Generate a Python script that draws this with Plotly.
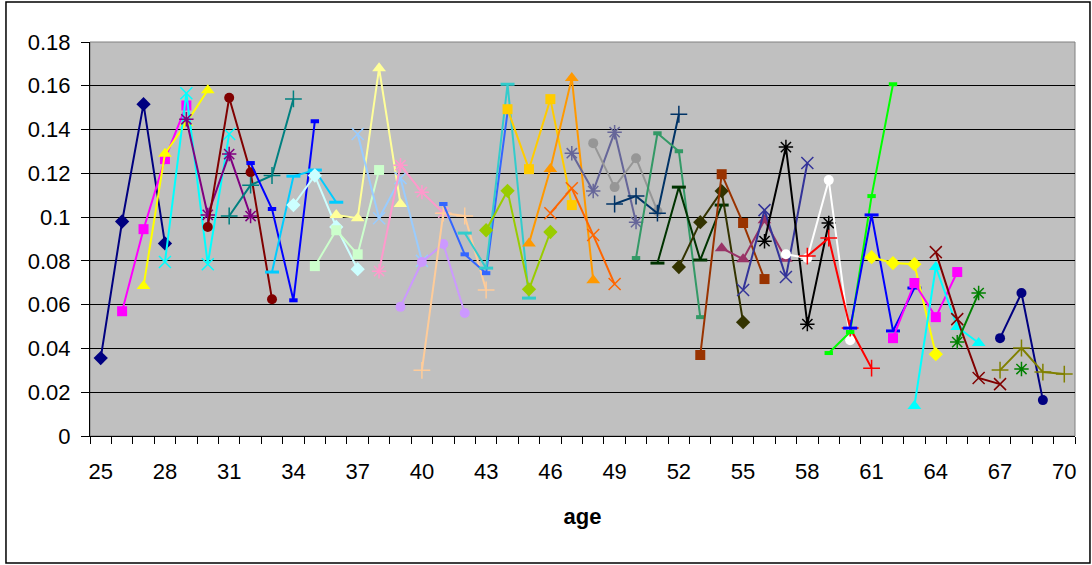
import plotly.graph_objects as go

# Categories (ages) and y tick labels
ages = list(range(25, 71))
x_tick_labels = [str(a) for a in range(25, 71, 3)]
y_tick_values = [0, 0.02, 0.04, 0.06, 0.08, 0.1, 0.12, 0.14, 0.16, 0.18]
y_tick_labels = ["0", "0.02", "0.04", "0.06", "0.08", "0.1", "0.12", "0.14", "0.16", "0.18"]

# Each series covers four consecutive ages starting at its start age
start_ages = [25, 26, 27, 28, 29, 30, 31, 32, 33, 34, 35, 36, 37, 38, 39, 40, 41, 42, 43, 44, 45, 46,
              47, 48, 49, 50, 51, 52, 53, 54, 55, 56, 57, 58, 59, 60, 61, 62, 63, 64, 65, 66, 67]

s01 = [0.0356, 0.098, 0.1516, 0.088]
s02 = [0.057, 0.0945, 0.1265, 0.151]
s03 = [0.0685, 0.129, 0.143, 0.158]
s04 = [0.0795, 0.1566, 0.0785, 0.138]
s05 = [0.1447, 0.101, 0.1288, 0.1005]
s06 = [0.0955, 0.1545, 0.1205, 0.0625]
s07 = [0.1005, 0.1146, 0.119, 0.154]
s08 = [0.1247, 0.1037, 0.062, 0.1438]
s09 = [0.0749, 0.1187, 0.1215, 0.1068]
s10 = [0.1055, 0.119, 0.0955, 0.0762]
s11 = [0.0776, 0.094, 0.083, 0.1215]
s12 = [0.101, 0.0995, 0.168, 0.106]
s13 = [0.138, 0.0995, 0.1178, 0.080]
s14 = [0.0753, 0.1237, 0.1114, 0.102]
s15 = [0.059, 0.0795, 0.0877, 0.0562]
s16 = [0.030, 0.1018, 0.1005, 0.0667]
s17 = [0.106, 0.083, 0.0744, 0.148]
s18 = [0.0927, 0.0767, 0.1607, 0.063]
s19 = [0.094, 0.112, 0.067, 0.0932]
s20 = [0.1493, 0.1219, 0.1539, 0.1055]
s21 = [0.088, 0.122, 0.1635, 0.0712]
s22 = [0.1018, 0.1132, 0.0918, 0.0694]
s23 = [0.1292, 0.1119, 0.1388, 0.0977]
s24 = [0.1338, 0.1137, 0.1269, 0.1027]
s25 = [0.106, 0.1096, 0.1018, 0.147]
s26 = [0.0813, 0.1383, 0.1301, 0.0543]
s27 = [0.079, 0.1137, 0.0804, 0.1055]
s28 = [0.0772, 0.0977, 0.1119, 0.052]
s29 = [0.037, 0.1196, 0.0973, 0.0717]
s30 = [0.0858, 0.0808, 0.0986, 0.081]
s31 = [0.0667, 0.1032, 0.0726, 0.1247]
s32 = [0.089, 0.132, 0.0511, 0.0973]
s33 = [0.083, 0.0813, 0.1169, 0.0438]
s34 = [0.0822, 0.0904, 0.0493, 0.031]
s35 = [0.0379, 0.0475, 0.1096, 0.1607]
s36 = [0.0493, 0.101, 0.048, 0.0676]
s37 = [0.0817, 0.079, 0.0785, 0.0374]
s38 = [0.0447, 0.0699, 0.0543, 0.0749]
s39 = [0.0137, 0.0772, 0.0498, 0.0425]
s40 = [0.084, 0.0534, 0.0265, 0.0237]
s41 = [0.0429, 0.0653, None, 0.0306]
s42 = [None, 0.0447, 0.0653, 0.0164]
s43 = [0.0301, 0.0402, 0.0292, 0.0283]

series = [s01, s02, s03, s04, s05, s06, s07, s08, s09, s10, s11, s12, s13, s14, s15, s16, s17, s18,
          s19, s20, s21, s22, s23, s24, s25, s26, s27, s28, s29, s30, s31, s32, s33, s34, s35, s36,
          s37, s38, s39, s40, s41, s42, s43]

# Styles (Excel default palette order)
colors = ["#000080", "#FF00FF", "#FFFF00", "#00FFFF", "#800080", "#800000", "#008080", "#0000FF",
          "#00CCFF", "#CCFFFF", "#CCFFCC", "#FFFF99", "#99CCFF", "#FF99CC", "#CC99FF", "#FFCC99",
          "#3366FF", "#33CCCC", "#99CC00", "#FFCC00", "#FF9900", "#FF6600", "#666699", "#969696",
          "#003366", "#339966", "#003300", "#333300", "#993300", "#993366", "#333399", "#000000",
          "#FFFFFF", "#FF0000", "#00FF00", "#0000FF", "#FFFF00", "#FF00FF", "#00FFFF", "#800000",
          "#008000", "#000080", "#808000"]

marker_styles = [
    dict(symbol="diamond", size=11, lw=0),
    dict(symbol="square", size=10, lw=0),
    dict(symbol="triangle-up", size=12, lw=0),
    dict(symbol="x-thin", size=12, lw=1.5),
    dict(symbol="asterisk", size=12, lw=1.5),
    dict(symbol="circle", size=10, lw=0),
    dict(symbol="cross-thin", size=12, lw=1.5),
    dict(symbol="line-ew", size=6, lw=4),
    dict(symbol="line-ew", size=10, lw=3),
]

fig = go.Figure()
for i, vals in enumerate(series):
    xs = list(range(start_ages[i], start_ages[i] + len(vals)))
    ms = marker_styles[i % len(marker_styles)]
    c = colors[i]
    fig.add_trace(go.Scatter(
        x=xs, y=vals, mode="lines+markers",
        line=dict(color=c, width=2),
        marker=dict(symbol=ms["symbol"], size=ms["size"], color=c,
                    line=dict(color=c, width=ms["lw"])),
        connectgaps=False,
        showlegend=False,
        hoverinfo="x+y",
    ))

font_family = "Liberation Sans, Arial, sans-serif"

fig.update_layout(
    width=1092, height=565,
    margin=dict(l=90, r=17, t=42, b=129),
    paper_bgcolor="white",
    plot_bgcolor="#C0C0C0",
    font=dict(family=font_family, size=22, color="black"),
    showlegend=False,
    xaxis=dict(
        range=[24.5, 70.5],
        tickmode="array",
        tickvals=[int(t) for t in x_tick_labels],
        ticktext=x_tick_labels,
        ticks="",
        ticklabelstandoff=16,
        showgrid=False,
        zeroline=False,
        showline=True, linecolor="black", linewidth=1,
        minor=dict(ticks="outside", tick0=24.5, dtick=1, ticklen=7,
                   tickcolor="black", tickwidth=1, showgrid=False),
        title=dict(text="<b>age</b>", font=dict(size=22), standoff=25),
        tickfont=dict(size=22),
    ),
    yaxis=dict(
        range=[0, 0.18],
        tickmode="array",
        tickvals=y_tick_values,
        ticktext=y_tick_labels,
        ticks="outside", ticklen=8, tickcolor="black", tickwidth=1,
        ticklabelstandoff=6,
        showgrid=True, gridcolor="black", gridwidth=1,
        zeroline=False,
        showline=True, linecolor="black", linewidth=1,
        tickfont=dict(size=22),
    ),
    shapes=[
        # plot area border
        dict(type="rect", xref="x domain", yref="y domain", x0=0, x1=1, y0=0, y1=1,
             line=dict(color="#808080", width=1), layer="below"),
        # chart area border
        dict(type="rect", xref="paper", yref="paper",
             x0=-0.0853, x1=1.0152, y0=-0.3223, y1=1.1015,
             line=dict(color="black", width=1.5), layer="below"),
    ],
)

fig.write_html("out.html")
